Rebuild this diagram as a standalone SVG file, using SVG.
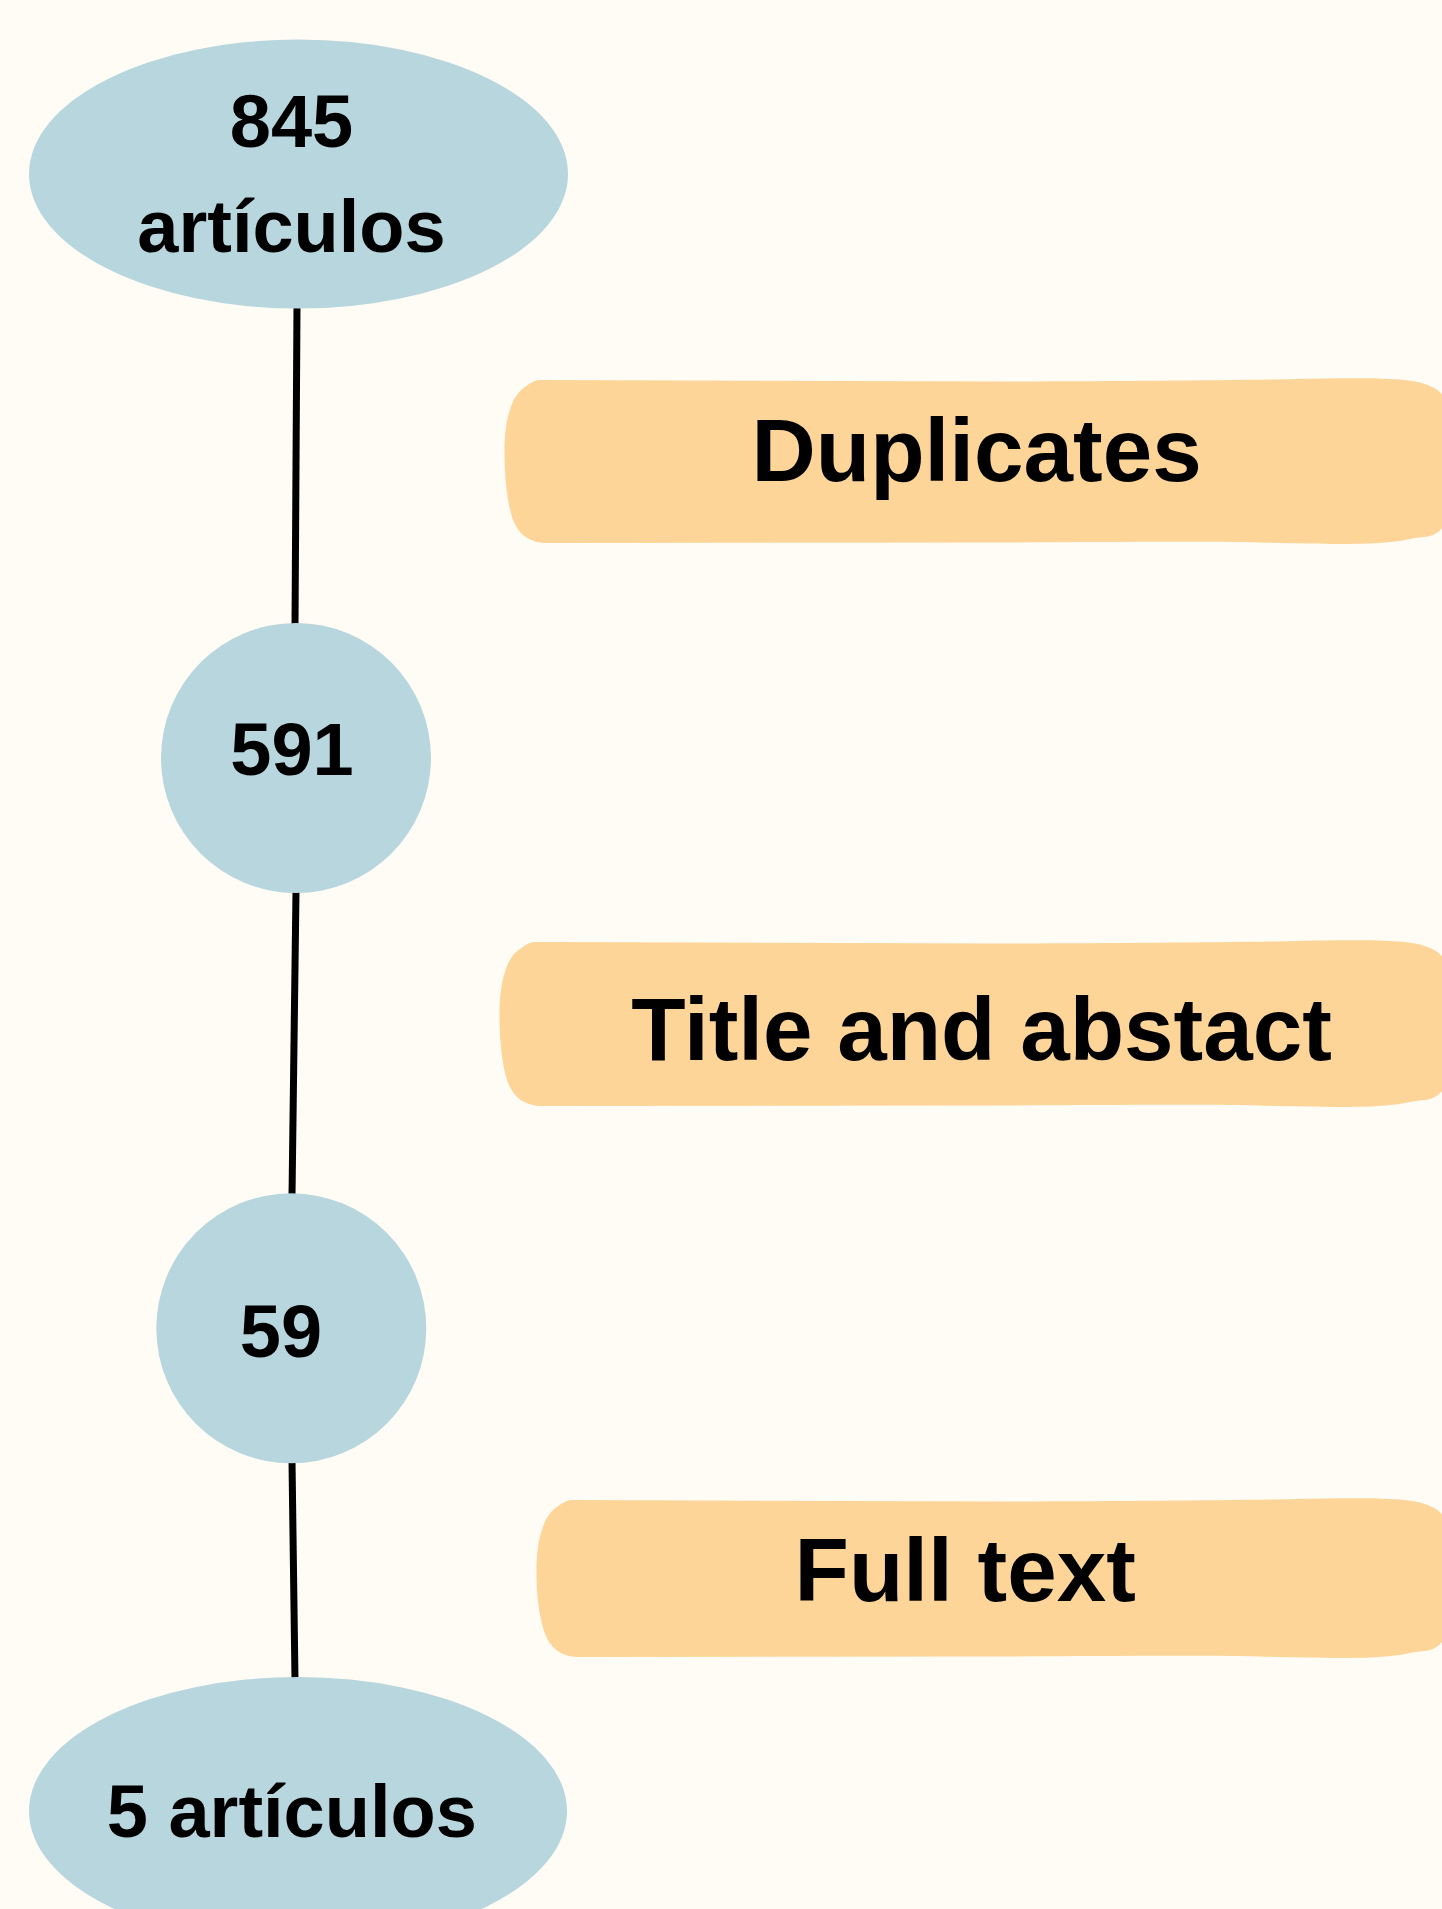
<svg xmlns="http://www.w3.org/2000/svg" width="1442" height="1909" viewBox="0 0 1442 1909">
<style>
.node{fill:#B8D6DD;}
.box{fill:#FDD598;}
.t{font-family:"Liberation Sans",Arial,sans-serif;font-weight:bold;fill:#000;text-anchor:middle;}
.n{font-size:74px;}
.b{font-size:89px;}
.edge{stroke:#000;stroke-width:7;fill:none;}
</style>
<rect x="0" y="0" width="1442" height="1909" fill="#FFFCF5"/>
<g id="connectors">
<line class="edge" x1="297" y1="306" x2="295" y2="626"/>
<line class="edge" x1="296" y1="891" x2="292" y2="1196"/>
<line class="edge" x1="292" y1="1461" x2="295" y2="1680"/>
</g>
<g id="node-845">
<ellipse class="node" cx="298.5" cy="174" rx="269.5" ry="134.5"/>
<text class="t n" x="291.5" y="147">845</text>
<text class="t n" x="291.5" y="252">artículos</text>
</g>
<g id="node-591">
<circle class="node" cx="296" cy="758" r="135"/>
<text class="t n" x="292" y="775">591</text>
</g>
<g id="node-59">
<circle class="node" cx="291.3" cy="1328.3" r="135"/>
<text class="t n" x="281" y="1357">59</text>
</g>
<g id="node-5">
<ellipse class="node" cx="298" cy="1811" rx="269" ry="134"/>
<text class="t n" x="291.8" y="1837">5 artículos</text>
</g>
<g id="box-duplicates">
<path class="box" d="M 540 380 L 1000 381.5 C 1150 381 1250 380 1340 378.3 C 1390 377.5 1415 380 1425 384 C 1437 388 1442 393 1444 398 L 1444 525 C 1440 532 1434 536 1425 537 C 1410 538 1405 541 1390 542 C 1370 544.5 1330 544.5 1260 542.5 C 1200 541 1100 542 1000 542.5 L 547 543 C 530 543 518 535 512 517 C 507 500 505 480 504.5 457 C 504 440 506 420 510 410 C 513 398 520 390 525 387 C 530 383 535 380 540 380 Z"/>
<text class="t b" x="976.6" y="481">Duplicates</text>
</g>
<g id="box-title">
<path class="box" d="M 535 942 L 1000 943.5 C 1150 943 1250 942 1340 940.3 C 1390 939.5 1415 942 1425 946 C 1437 950 1442 955 1444 960 L 1444 1088 C 1440 1095 1434 1099 1425 1100 C 1410 1101 1405 1104 1390 1105 C 1370 1107.5 1330 1107.5 1260 1105.5 C 1200 1104 1100 1105 1000 1105.5 L 542 1106 C 525 1106 513 1098 507 1080 C 502 1063 500 1043 499.5 1020 C 499 1003 501 983 505 972 C 508 960 515 952 520 949 C 525 945 530 942 535 942 Z"/>
<text class="t b" x="981.5" y="1060">Title and abstact</text>
</g>
<g id="box-fulltext">
<path class="box" d="M 572 1500 L 1000 1501.5 C 1150 1501 1250 1500 1340 1498.3 C 1390 1497.5 1415 1500 1425 1504 C 1437 1508 1442 1513 1444 1518 L 1444 1639 C 1440 1646 1434 1650 1425 1651 C 1410 1652 1405 1655 1390 1656 C 1370 1658.5 1330 1658.5 1260 1656.5 C 1200 1655 1100 1656 1000 1656.5 L 579 1657 C 562 1657 550 1649 544 1631 C 539 1614 537 1598 536.5 1577 C 536 1560 538 1540 542 1530 C 545 1518 552 1510 557 1507 C 562 1503 567 1500 572 1500 Z"/>
<text class="t b" x="965.2" y="1601">Full text</text>
</g>
</svg>
